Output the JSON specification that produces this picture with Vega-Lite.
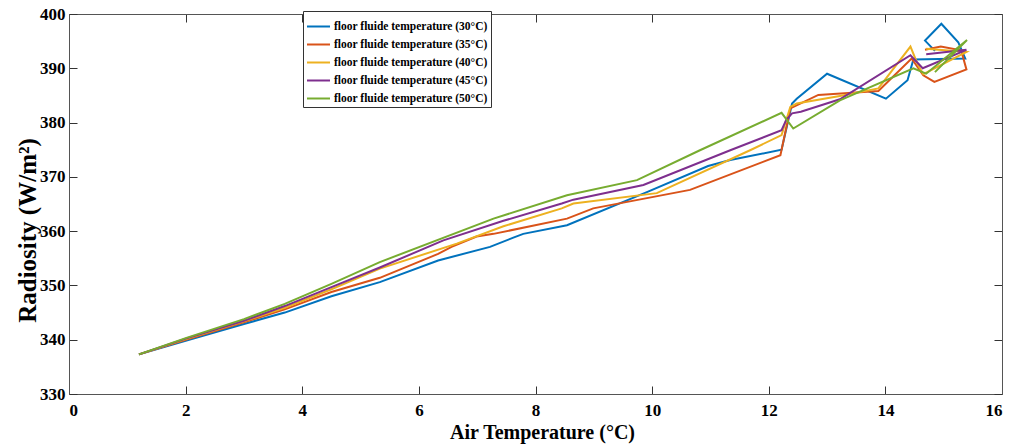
{
  "$schema": "https://vega.github.io/schema/vega-lite/v6.json",
  "width": 933,
  "height": 380,
  "autosize": {"type": "none"},
  "padding": {"left": 69, "top": 14, "right": 22, "bottom": 52},
  "background": "white",
  "config": {
    "view": {"stroke": null},
    "font": "Liberation Serif",
    "axis": {
      "grid": false,
      "labelFont": "Liberation Serif",
      "labelFontWeight": "bold",
      "labelFontSize": 17,
      "labelColor": "#000",
      "titleFont": "Liberation Serif",
      "titleFontWeight": "bold",
      "titleFontSize": 20,
      "titleColor": "#000",
      "domainColor": "#555",
      "tickColor": "#333",
      "tickSize": -8
    }
  },
  "datasets": {
    "d": [
      {"s": "floor fluide temperature (30°C)", "i": 1, "x": 1.2, "y": 337.3},
      {"s": "floor fluide temperature (30°C)", "i": 2, "x": 2.0, "y": 339.8},
      {"s": "floor fluide temperature (30°C)", "i": 3, "x": 3.0, "y": 342.9},
      {"s": "floor fluide temperature (30°C)", "i": 4, "x": 3.7, "y": 345.0},
      {"s": "floor fluide temperature (30°C)", "i": 5, "x": 4.5, "y": 348.0},
      {"s": "floor fluide temperature (30°C)", "i": 6, "x": 5.33, "y": 350.6},
      {"s": "floor fluide temperature (30°C)", "i": 7, "x": 6.33, "y": 354.6},
      {"s": "floor fluide temperature (30°C)", "i": 8, "x": 7.22, "y": 357.1},
      {"s": "floor fluide temperature (30°C)", "i": 9, "x": 7.62, "y": 358.8},
      {"s": "floor fluide temperature (30°C)", "i": 10, "x": 7.79, "y": 359.5},
      {"s": "floor fluide temperature (30°C)", "i": 11, "x": 8.54, "y": 361.1},
      {"s": "floor fluide temperature (30°C)", "i": 12, "x": 9.91, "y": 367.2},
      {"s": "floor fluide temperature (30°C)", "i": 13, "x": 10.96, "y": 372.0},
      {"s": "floor fluide temperature (30°C)", "i": 14, "x": 11.34, "y": 373.1},
      {"s": "floor fluide temperature (30°C)", "i": 15, "x": 12.22, "y": 375.0},
      {"s": "floor fluide temperature (30°C)", "i": 16, "x": 12.40, "y": 383.5},
      {"s": "floor fluide temperature (30°C)", "i": 17, "x": 12.48, "y": 384.4},
      {"s": "floor fluide temperature (30°C)", "i": 18, "x": 13.0, "y": 389.0},
      {"s": "floor fluide temperature (30°C)", "i": 19, "x": 14.01, "y": 384.4},
      {"s": "floor fluide temperature (30°C)", "i": 20, "x": 14.38, "y": 387.8},
      {"s": "floor fluide temperature (30°C)", "i": 21, "x": 14.48, "y": 391.6},
      {"s": "floor fluide temperature (30°C)", "i": 22, "x": 15.37, "y": 391.8},
      {"s": "floor fluide temperature (30°C)", "i": 23, "x": 15.25, "y": 394.8},
      {"s": "floor fluide temperature (30°C)", "i": 24, "x": 14.96, "y": 398.2},
      {"s": "floor fluide temperature (30°C)", "i": 25, "x": 14.68, "y": 395.1},
      {"s": "floor fluide temperature (30°C)", "i": 26, "x": 14.85, "y": 393.2},

      {"s": "floor fluide temperature (35°C)", "i": 1, "x": 1.2, "y": 337.3},
      {"s": "floor fluide temperature (35°C)", "i": 2, "x": 2.0, "y": 340.0},
      {"s": "floor fluide temperature (35°C)", "i": 3, "x": 3.0, "y": 343.2},
      {"s": "floor fluide temperature (35°C)", "i": 4, "x": 3.7, "y": 345.6},
      {"s": "floor fluide temperature (35°C)", "i": 5, "x": 4.5, "y": 348.8},
      {"s": "floor fluide temperature (35°C)", "i": 6, "x": 5.33, "y": 351.4},
      {"s": "floor fluide temperature (35°C)", "i": 7, "x": 6.33, "y": 355.8},
      {"s": "floor fluide temperature (35°C)", "i": 8, "x": 6.56, "y": 357.1},
      {"s": "floor fluide temperature (35°C)", "i": 9, "x": 6.99, "y": 359.0},
      {"s": "floor fluide temperature (35°C)", "i": 10, "x": 7.28, "y": 359.5},
      {"s": "floor fluide temperature (35°C)", "i": 11, "x": 8.54, "y": 362.3},
      {"s": "floor fluide temperature (35°C)", "i": 12, "x": 8.99, "y": 364.2},
      {"s": "floor fluide temperature (35°C)", "i": 13, "x": 10.65, "y": 367.6},
      {"s": "floor fluide temperature (35°C)", "i": 14, "x": 12.2, "y": 374.0},
      {"s": "floor fluide temperature (35°C)", "i": 15, "x": 12.37, "y": 382.6},
      {"s": "floor fluide temperature (35°C)", "i": 16, "x": 12.85, "y": 385.1},
      {"s": "floor fluide temperature (35°C)", "i": 17, "x": 13.88, "y": 385.8},
      {"s": "floor fluide temperature (35°C)", "i": 18, "x": 14.45, "y": 391.8},
      {"s": "floor fluide temperature (35°C)", "i": 19, "x": 14.65, "y": 388.7},
      {"s": "floor fluide temperature (35°C)", "i": 20, "x": 14.84, "y": 387.5},
      {"s": "floor fluide temperature (35°C)", "i": 21, "x": 15.39, "y": 389.8},
      {"s": "floor fluide temperature (35°C)", "i": 22, "x": 15.3, "y": 393.3},
      {"s": "floor fluide temperature (35°C)", "i": 23, "x": 14.95, "y": 394.0},
      {"s": "floor fluide temperature (35°C)", "i": 24, "x": 14.68, "y": 393.4},

      {"s": "floor fluide temperature (40°C)", "i": 1, "x": 1.2, "y": 337.3},
      {"s": "floor fluide temperature (40°C)", "i": 2, "x": 2.0, "y": 340.1},
      {"s": "floor fluide temperature (40°C)", "i": 3, "x": 3.0, "y": 343.4},
      {"s": "floor fluide temperature (40°C)", "i": 4, "x": 3.7, "y": 345.9},
      {"s": "floor fluide temperature (40°C)", "i": 5, "x": 4.5, "y": 349.3},
      {"s": "floor fluide temperature (40°C)", "i": 6, "x": 5.33, "y": 353.1},
      {"s": "floor fluide temperature (40°C)", "i": 7, "x": 6.65, "y": 357.7},
      {"s": "floor fluide temperature (40°C)", "i": 8, "x": 7.45, "y": 360.9},
      {"s": "floor fluide temperature (40°C)", "i": 9, "x": 8.45, "y": 364.2},
      {"s": "floor fluide temperature (40°C)", "i": 10, "x": 8.65, "y": 365.1},
      {"s": "floor fluide temperature (40°C)", "i": 11, "x": 10.08, "y": 367.0},
      {"s": "floor fluide temperature (40°C)", "i": 12, "x": 11.68, "y": 374.9},
      {"s": "floor fluide temperature (40°C)", "i": 13, "x": 12.22, "y": 377.7},
      {"s": "floor fluide temperature (40°C)", "i": 14, "x": 12.37, "y": 382.9},
      {"s": "floor fluide temperature (40°C)", "i": 15, "x": 12.48, "y": 383.5},
      {"s": "floor fluide temperature (40°C)", "i": 16, "x": 13.22, "y": 384.9},
      {"s": "floor fluide temperature (40°C)", "i": 17, "x": 13.88, "y": 386.3},
      {"s": "floor fluide temperature (40°C)", "i": 18, "x": 14.43, "y": 394.0},
      {"s": "floor fluide temperature (40°C)", "i": 19, "x": 14.56, "y": 390.6},
      {"s": "floor fluide temperature (40°C)", "i": 20, "x": 14.65, "y": 388.9},
      {"s": "floor fluide temperature (40°C)", "i": 21, "x": 15.39, "y": 393.0},
      {"s": "floor fluide temperature (40°C)", "i": 22, "x": 14.7, "y": 393.6},

      {"s": "floor fluide temperature (45°C)", "i": 1, "x": 1.2, "y": 337.3},
      {"s": "floor fluide temperature (45°C)", "i": 2, "x": 2.0, "y": 340.2},
      {"s": "floor fluide temperature (45°C)", "i": 3, "x": 3.0, "y": 343.5},
      {"s": "floor fluide temperature (45°C)", "i": 4, "x": 3.7, "y": 346.2},
      {"s": "floor fluide temperature (45°C)", "i": 5, "x": 4.5, "y": 349.7},
      {"s": "floor fluide temperature (45°C)", "i": 6, "x": 5.33, "y": 353.3},
      {"s": "floor fluide temperature (45°C)", "i": 7, "x": 6.42, "y": 358.3},
      {"s": "floor fluide temperature (45°C)", "i": 8, "x": 7.45, "y": 361.9},
      {"s": "floor fluide temperature (45°C)", "i": 9, "x": 8.45, "y": 365.1},
      {"s": "floor fluide temperature (45°C)", "i": 10, "x": 8.65, "y": 365.8},
      {"s": "floor fluide temperature (45°C)", "i": 11, "x": 9.85, "y": 368.5},
      {"s": "floor fluide temperature (45°C)", "i": 12, "x": 11.34, "y": 374.9},
      {"s": "floor fluide temperature (45°C)", "i": 13, "x": 12.22, "y": 378.6},
      {"s": "floor fluide temperature (45°C)", "i": 14, "x": 12.3, "y": 380.5},
      {"s": "floor fluide temperature (45°C)", "i": 15, "x": 12.4, "y": 381.7},
      {"s": "floor fluide temperature (45°C)", "i": 16, "x": 12.55, "y": 382.0},
      {"s": "floor fluide temperature (45°C)", "i": 17, "x": 13.22, "y": 384.3},
      {"s": "floor fluide temperature (45°C)", "i": 18, "x": 14.43, "y": 392.4},
      {"s": "floor fluide temperature (45°C)", "i": 19, "x": 14.64, "y": 390.0},
      {"s": "floor fluide temperature (45°C)", "i": 20, "x": 15.39, "y": 393.4},
      {"s": "floor fluide temperature (45°C)", "i": 21, "x": 14.7, "y": 392.6},

      {"s": "floor fluide temperature (50°C)", "i": 1, "x": 1.2, "y": 337.3},
      {"s": "floor fluide temperature (50°C)", "i": 2, "x": 2.0, "y": 340.3},
      {"s": "floor fluide temperature (50°C)", "i": 3, "x": 3.0, "y": 343.8},
      {"s": "floor fluide temperature (50°C)", "i": 4, "x": 3.7, "y": 346.6},
      {"s": "floor fluide temperature (50°C)", "i": 5, "x": 4.5, "y": 350.3},
      {"s": "floor fluide temperature (50°C)", "i": 6, "x": 5.33, "y": 354.3},
      {"s": "floor fluide temperature (50°C)", "i": 7, "x": 7.28, "y": 362.3},
      {"s": "floor fluide temperature (50°C)", "i": 8, "x": 8.54, "y": 366.6},
      {"s": "floor fluide temperature (50°C)", "i": 9, "x": 9.74, "y": 369.4},
      {"s": "floor fluide temperature (50°C)", "i": 10, "x": 10.82, "y": 374.9},
      {"s": "floor fluide temperature (50°C)", "i": 11, "x": 12.22, "y": 381.8},
      {"s": "floor fluide temperature (50°C)", "i": 12, "x": 12.42, "y": 378.9},
      {"s": "floor fluide temperature (50°C)", "i": 13, "x": 13.22, "y": 384.1},
      {"s": "floor fluide temperature (50°C)", "i": 14, "x": 14.48, "y": 390.0},
      {"s": "floor fluide temperature (50°C)", "i": 15, "x": 14.7, "y": 389.0},
      {"s": "floor fluide temperature (50°C)", "i": 16, "x": 15.4, "y": 395.2},
      {"s": "floor fluide temperature (50°C)", "i": 17, "x": 14.85, "y": 389.3}
    ]
  },
  "data": {"name": "d"},
  "resolve": {"axis": {"x": "independent", "y": "independent"}},
  "layer": [
    {
      "mark": {"type": "line", "strokeWidth": 2, "clip": true},
      "encoding": {
        "x": {"field": "x", "type": "quantitative", "scale": {"domain": [0, 16], "nice": false},
              "axis": {"title": "Air Temperature (°C)", "values": [0,2,4,6,8,10,12,14,16], "labelPadding": 16,
                       "titleX": 473, "titleY": 44, "titleBaseline": "alphabetic", "titleAnchor": "middle", "titleAlign": "center"}},
        "y": {"field": "y", "type": "quantitative", "scale": {"domain": [330, 400], "nice": false, "zero": false},
              "axis": {"title": "Radiosity (W/m²)", "values": [330,340,350,360,370,380,390,400], "labelPadding": 12,
                       "titleFontSize": 25, "titleX": -34, "titleY": 216, "titleAngle": -90, "titleBaseline": "alphabetic", "titleAlign": "center"}},
        "order": {"field": "i", "type": "quantitative"},
        "color": {
          "field": "s", "type": "nominal",
          "scale": {
            "domain": ["floor fluide temperature (30°C)", "floor fluide temperature (35°C)", "floor fluide temperature (40°C)", "floor fluide temperature (45°C)", "floor fluide temperature (50°C)"],
            "range": ["#0072BD", "#D95319", "#EDB120", "#7E2F8E", "#77AC30"]
          },
          "legend": {
            "title": null,
            "orient": "none",
            "legendX": 234,
            "legendY": -3,
            "symbolType": "stroke",
            "symbolSize": 529,
            "symbolStrokeWidth": 2,
            "labelFont": "Liberation Serif",
            "labelFontWeight": "bold",
            "labelFontSize": 11.5,
            "labelColor": "#000",
            "labelLimit": 400,
            "rowPadding": -5,
            "padding": 3,
            "fillColor": "white",
            "strokeColor": "#333",
            "labelOffset": 3
          }
        }
      }
    },
    {
      "mark": {"type": "line", "opacity": 0},
      "encoding": {
        "x": {"field": "x", "type": "quantitative", "scale": {"domain": [0, 16], "nice": false},
              "axis": {"orient": "top", "labels": false, "title": null, "values": [0,2,4,6,8,10,12,14,16]}},
        "y": {"field": "y", "type": "quantitative", "scale": {"domain": [330, 400], "nice": false, "zero": false},
              "axis": {"orient": "right", "labels": false, "title": null, "values": [330,340,350,360,370,380,390,400]}},
        "order": {"field": "i", "type": "quantitative"},
        "detail": {"field": "s", "type": "nominal"}
      }
    }
  ]
}
